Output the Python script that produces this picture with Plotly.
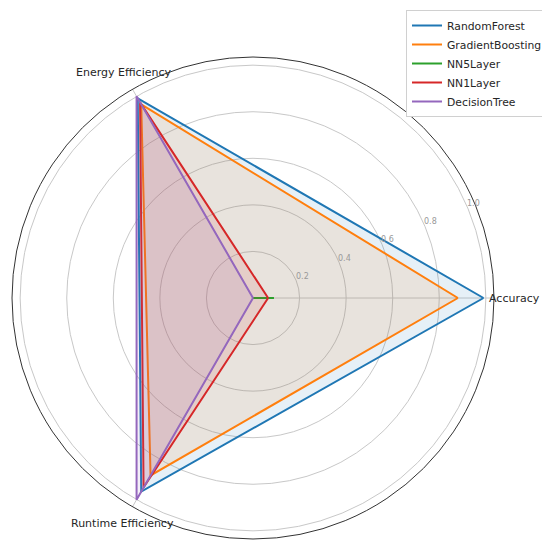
import math
import plotly.graph_objects as go

categories = ["Accuracy", "Energy Efficiency", "Runtime Efficiency"]
angles = [0, 120, 240]
models = ["RandomForest", "GradientBoosting", "NN5Layer", "NN1Layer", "DecisionTree"]
accuracy = [0.99, 0.88, 0.09, 0.065, 0.0]
energy = [0.99, 0.96, 0.0, 0.97, 1.0]
runtime = [0.96, 0.88, 0.0, 0.94, 1.0]
colors = ["#1f77b4", "#ff7f0e", "#2ca02c", "#d62728", "#9467bd"]
fills = ["rgba(31,119,180,0.11)", "rgba(255,127,14,0.11)", "rgba(44,160,44,0.11)",
         "rgba(214,39,40,0.11)", "rgba(148,103,189,0.11)"]
radial_ticks = [0.2, 0.4, 0.6, 0.8, 1.0]

W, H = 550, 551
cx, cy, R = 245, 290, 241      # polar centre / outer radius in figure pixels
RMAX = 1.035
scale = R / RMAX

fig = go.Figure()
for i, m in enumerate(models):
    r = [accuracy[i], energy[i], runtime[i], accuracy[i]]
    th = angles + [angles[0]]
    fig.add_trace(go.Scatterpolar(r=r, theta=th, mode="lines", fill="toself",
                                  fillcolor=fills[i], line=dict(width=0, color=colors[i]),
                                  showlegend=False, hoverinfo="skip"))
    fig.add_trace(go.Scatterpolar(r=r, theta=th, mode="lines", name=m,
                                  line=dict(width=2, color=colors[i])))

annotations = []
# category labels (matplotlib-style placement)
lab_r = [234, 260, 260]
lab_anchor = ["left", "center", "center"]
for cat, ang, rr, anc in zip(categories, angles, lab_r, lab_anchor):
    x = cx + rr * math.cos(math.radians(ang))
    y = cy - rr * math.sin(math.radians(ang))
    annotations.append(dict(text=cat, x=x / W, y=1 - y / H, xref="paper", yref="paper",
                            xanchor=anc, yanchor="middle", showarrow=False,
                            font=dict(family="DejaVu Sans", size=11, color="#262626")))
# radial tick labels at 23.3 degrees, slightly outside each ring
for v in radial_ticks:
    rr = v * scale + 7
    a = math.radians(23.3)
    x = cx + rr * math.cos(a)
    y = cy - rr * math.sin(a)
    annotations.append(dict(text=f"{v:.1f}", x=x / W, y=1 - y / H, xref="paper", yref="paper",
                            xanchor="center", yanchor="middle", showarrow=False,
                            font=dict(family="DejaVu Sans", size=8, color="#999999")))

fig.update_layout(
    width=W, height=H,
    margin=dict(l=0, r=0, t=0, b=0, autoexpand=False),
    paper_bgcolor="white",
    font=dict(family="DejaVu Sans", size=10.8, color="#262626"),
    polar=dict(
        bgcolor="white",
        domain=dict(x=[(cx - R) / W, (cx + R) / W], y=[1 - (cy + R) / H, 1 - (cy - R) / H]),
        radialaxis=dict(range=[0, RMAX], tickvals=radial_ticks, showticklabels=False,
                        angle=22.5, showline=False, ticks="",
                        gridcolor="#c8c8c8", gridwidth=1),
        angularaxis=dict(tickmode="array", tickvals=angles, ticktext=categories,
                         showticklabels=False,
                         thetaunit="degrees", direction="counterclockwise", rotation=0,
                         showline=True, linecolor="#333333", linewidth=1,
                         gridcolor="#c8c8c8", gridwidth=1, ticks=""),
    ),
    annotations=annotations,
    legend=dict(x=398 / W, y=1 - 2 / H,
                xanchor="left", yanchor="top", bgcolor="white",
                bordercolor="#d0d0d0", borderwidth=1,
                font=dict(size=10.8), itemwidth=30),
)

fig.write_html("out.html")
